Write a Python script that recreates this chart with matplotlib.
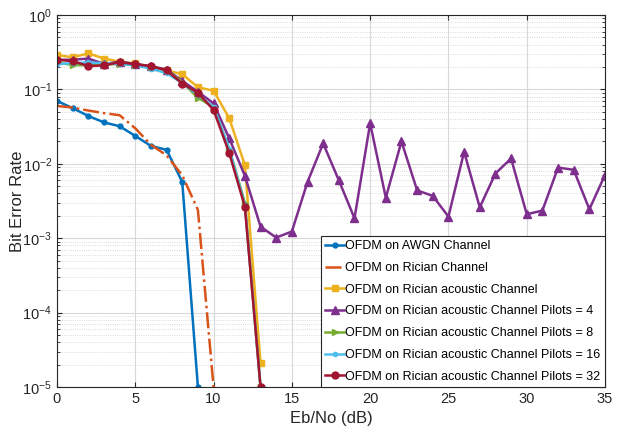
import matplotlib
matplotlib.use("Agg")
import matplotlib.pyplot as plt
from matplotlib.ticker import LogLocator, NullFormatter, MultipleLocator

plt.rcParams['font.family'] = ['Liberation Sans', 'DejaVu Sans']
plt.rcParams['mathtext.default'] = 'regular'

# Eb/No axes (dB)
snr_awgn = list(range(0, 10))
snr_rician = list(range(0, 11))
snr_acoustic = list(range(0, 14))
snr_p4 = list(range(0, 36))

# bit error rates
ber_awgn = [0.07, 0.056, 0.044, 0.036, 0.032, 0.0237, 0.0174, 0.0154, 0.0057, 1e-5]
ber_rician = [0.06, 0.057, 0.052, 0.048, 0.045, 0.03, 0.018, 0.013, 0.007, 0.0024, 1e-5]
ber_acoustic = [0.29, 0.27, 0.305, 0.26, 0.236, 0.224, 0.20, 0.18, 0.16, 0.107, 0.096,
                0.041, 0.0096, 2.1e-5]
ber_p4 = [0.25, 0.25, 0.26, 0.22, 0.235, 0.22, 0.205, 0.185, 0.13, 0.093, 0.065, 0.022,
          0.0069, 0.00143, 0.00102, 0.00123, 0.0057, 0.0188, 0.006, 0.00185, 0.035,
          0.0035, 0.02, 0.0044, 0.0037, 0.00195, 0.0145, 0.0026, 0.0074, 0.0118,
          0.0021, 0.00235, 0.0089, 0.0083, 0.00245, 0.0071]
ber_p8 = [0.23, 0.213, 0.21, 0.215, 0.22, 0.215, 0.2, 0.18, 0.125, 0.077, 0.058, 0.016,
          0.003, 1e-5]
ber_p16 = [0.22, 0.225, 0.23, 0.225, 0.22, 0.21, 0.19, 0.165, 0.122, 0.085, 0.058,
           0.016, 0.0028, 1e-5]
ber_p32 = [0.25, 0.24, 0.206, 0.21, 0.233, 0.217, 0.206, 0.18, 0.12, 0.09, 0.053, 0.014,
           0.00265, 1e-5]

labels = ['OFDM on AWGN Channel', 'OFDM on Rician Channel',
          'OFDM on Rician acoustic Channel',
          'OFDM on Rician acoustic Channel Pilots = 4',
          'OFDM on Rician acoustic Channel Pilots = 8',
          'OFDM on Rician acoustic Channel Pilots = 16',
          'OFDM on Rician acoustic Channel Pilots = 32']

fig = plt.figure(figsize=(6.24, 4.41), dpi=100)
ax = fig.add_axes([0.0913, 0.1224, 0.8783, 0.8436])

lw = 1.8
ax.semilogy(snr_awgn, ber_awgn, '.-', color='#0072BD', lw=lw, ms=7, label=labels[0])
ax.semilogy(snr_rician, ber_rician, '-.', color='#D95319', lw=lw, label=labels[1])
ax.semilogy(snr_acoustic, ber_acoustic, 's-', color='#EDB120', lw=lw, ms=5, label=labels[2])
ax.semilogy(snr_p4, ber_p4, '^-', color='#7E2F8E', lw=lw, ms=6, label=labels[3])
ax.semilogy(snr_acoustic, ber_p8, '>-', color='#77AC30', lw=lw, ms=5, label=labels[4])
ax.semilogy(snr_acoustic, ber_p16, '.-', color='#4DBEEE', lw=lw, ms=6, label=labels[5])
ax.semilogy(snr_acoustic, ber_p32, 'o-', color='#A2142F', lw=lw, ms=5, label=labels[6])

ax.set_xlim(0, 35)
ax.set_ylim(1e-5, 1)
ax.xaxis.set_major_locator(MultipleLocator(5))
ax.yaxis.set_major_locator(LogLocator(base=10, numticks=10))
ax.yaxis.set_minor_locator(LogLocator(base=10, subs=range(2, 10), numticks=20))
ax.yaxis.set_minor_formatter(NullFormatter())

ax.grid(True, which='major', color='#d8d8d8', lw=0.8)
ax.grid(True, which='minor', axis='y', color='#cfcfcf', lw=0.6, ls=':')
ax.set_axisbelow(True)

ax.tick_params(which='both', direction='in', top=True, right=True, colors='#262626',
               labelsize=10.5)
ax.tick_params(which='minor', length=2.5)
for s in ax.spines.values():
    s.set_color('#262626')
    s.set_linewidth(0.8)

ax.set_xlabel('Eb/No (dB)', fontsize=12, color='#262626')
ax.set_ylabel('Bit Error Rate', fontsize=12, color='#262626')
ax.yaxis.set_label_coords(-0.058, 0.5)

leg = ax.legend(loc='lower right', fontsize=9, borderaxespad=0, handlelength=1.5,
                handletextpad=0.1, labelspacing=0.78, fancybox=False, framealpha=1,
                borderpad=0.35)
leg.get_frame().set_edgecolor('#262626')
leg.get_frame().set_linewidth(0.8)

fig.savefig('out.png', dpi=100)
